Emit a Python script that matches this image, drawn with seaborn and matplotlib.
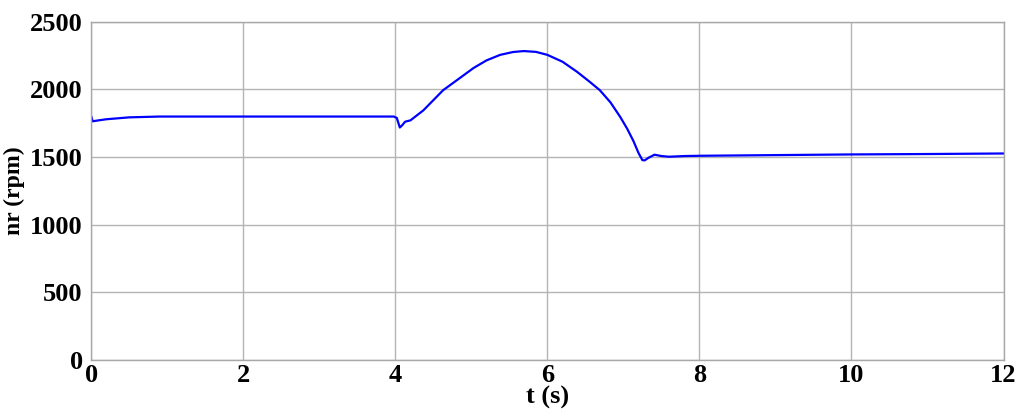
import matplotlib
matplotlib.use("Agg")
import matplotlib.pyplot as plt
import seaborn as sns
import pandas as pd

t_s = [0, 0.02, 0.1, 0.2, 0.5, 0.9, 1.5, 2, 3, 3.98, 4.02, 4.06, 4.09, 4.13, 4.2,
       4.37, 4.63, 4.85, 5.03, 5.2, 5.38, 5.55, 5.69, 5.85, 6.0, 6.2, 6.39, 6.55,
       6.69, 6.83, 6.96, 7.05, 7.13, 7.2, 7.25, 7.28, 7.33, 7.41, 7.5, 7.6, 7.8,
       8, 9, 10, 11, 12]
nr_rpm = [1804, 1765, 1772, 1780, 1794, 1800, 1800, 1800, 1800, 1800, 1790, 1719,
          1735, 1762, 1772, 1846, 1995, 2085, 2159, 2215, 2256, 2277, 2284, 2278,
          2256, 2205, 2131, 2060, 1995, 1905, 1796, 1710, 1622, 1530, 1478, 1476,
          1495, 1518, 1508, 1503, 1508, 1510, 1515, 1520, 1523, 1527]
x_ticks = [0, 2, 4, 6, 8, 10, 12]
y_ticks = [0, 500, 1000, 1500, 2000, 2500]

sns.set_style("white")
plt.rcParams['font.family'] = ['Liberation Serif', 'DejaVu Serif']
plt.rcParams['font.weight'] = 'bold'
plt.rcParams['text.color'] = 'black'
plt.rcParams['axes.labelcolor'] = 'black'
plt.rcParams['xtick.color'] = 'black'
plt.rcParams['ytick.color'] = 'black'

df = pd.DataFrame({"t": t_s, "nr": nr_rpm})
fig = plt.figure(figsize=(10.24, 4.12), dpi=100)
ax = fig.add_axes([0.089, 0.126, 0.891, 0.821])
sns.lineplot(data=df, x="t", y="nr", ax=ax, color="#0000ff", linewidth=1.6,
             sort=False, estimator=None)
ax.set_xlim(0, 12)
ax.set_ylim(0, 2500)
ax.set_xticks(x_ticks)
ax.set_yticks(y_ticks)
ax.set_xticklabels([str(v) for v in x_ticks], fontsize=19, fontweight='bold')
ax.set_yticklabels([str(v) for v in y_ticks], fontsize=19, fontweight='bold')
ax.grid(True, color="#b4b4b4", linewidth=1.0, linestyle='-')
ax.tick_params(direction='in', length=3, color='#333333')
ax.tick_params(axis='x', pad=3)
ax.tick_params(axis='y', pad=6)
for s in ax.spines.values():
    s.set_color("#a8a8a8")
    s.set_linewidth(1.0)
ax.set_xlabel("t (s)", fontsize=19, fontweight='bold')
ax.xaxis.set_label_coords(0.5, -0.077)
ax.xaxis.label.set_va('top')
ax.set_ylabel("nr (rpm)", fontsize=17, fontweight='bold')
ax.yaxis.set_label_coords(-0.073, 0.5)
fig.savefig("out.png", dpi=100)
